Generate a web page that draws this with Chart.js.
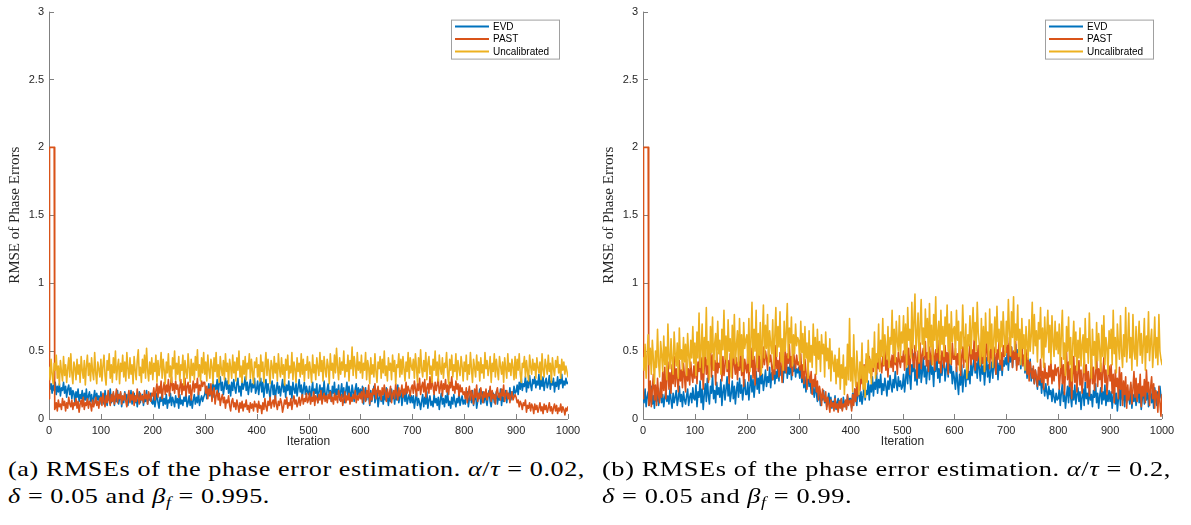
<!DOCTYPE html>
<html>
<head>
<meta charset="utf-8">
<script src="https://cdn.jsdelivr.net/npm/chart.js@4.4.0/dist/chart.umd.min.js"></script>
<style>
  html, body { margin: 0; padding: 0; background: #fff; }
  #wrap { position: relative; width: 1191px; height: 525px; overflow: hidden; }
  canvas { position: absolute; top: 0; }
  #ca { left: 0; }
  #cb { left: 594px; }
  .cap { position: absolute; top: 455px; font-family: "Liberation Serif", "Times New Roman", serif;
         font-size: 22px; line-height: 27px; color: #000; white-space: nowrap; letter-spacing: 0.5px;
         transform-origin: 0 0; }
  .cap i { font-style: italic; }
  .cap sub { font-size: 15px; vertical-align: -4px; line-height: 0; }
  #capa { left: 8px; }
  #capb { left: 602px; }
</style>
</head>
<body>
<div id="wrap">
  <canvas id="ca" width="595" height="455"></canvas>
  <canvas id="cb" width="595" height="455"></canvas>
  <div class="cap" id="capa" data-w="577"><span class="l1">(a) RMSEs of the phase error estimation. <i>α</i>/<i>τ</i> = 0.02,</span><br><span><i>δ</i> = 0.05 and <i>β<sub>f</sub></i> = 0.995.</span></div>
  <div class="cap" id="capb" data-w="569"><span class="l1">(b) RMSEs of the phase error estimation. <i>α</i>/<i>τ</i> = 0.2,</span><br><span><i>δ</i> = 0.05 and <i>β<sub>f</sub></i> = 0.99.</span></div>
</div>
<script>
// RMSE of the phase errors, sampled every 2 iterations (0 ... 1000)
// Panel (a): alpha/tau = 0.02, delta = 0.05, beta_f = 0.995
const evdA = [
  .28,.22,.26,.19,.25,.21,.27,.18,.24,.20, .26,.17,.23,.21,.27,.19,.24,.16,.22,.25,
  .18,.23,.15,.21,.19,.12,.20,.16,.22,.13, .18,.15,.21,.11,.19,.14,.22,.12,.17,.20,
  .13,.18,.10,.16,.21,.12,.19,.14,.17,.11,
  .20,.13,.17,.11,.21,.15,.10,.18,.14,.22, .12,.16,.19,.10,.17,.13,.21,.11,.15,.19,
  .09,.16,.12,.20,.14,.18,.10,.17,.13,.21, .11,.15,.19,.12,.17,.09,.14,.20,.12,.16,
  .18,.10,.15,.13,.21,.11,.17,.14,.19,.12,
  .11,.17,.09,.14,.19,.12,.08,.16,.13,.20, .10,.15,.11,.18,.08,.14,.12,.19,.10,.16,
  .13,.09,.17,.12,.15,.08,.18,.11,.14,.10, .16,.13,.19,.09,.12,.17,.10,.15,.08,.14,
  .18,.11,.16,.12,.20,.10,.14,.17,.13,.16,
  .18,.23,.15,.21,.26,.17,.24,.20,.28,.16, .25,.22,.29,.19,.26,.31,.21,.27,.18,.24,
  .30,.22,.28,.19,.25,.17,.27,.21,.29,.23, .19,.26,.30,.20,.24,.17,.28,.22,.25,.31,
  .21,.27,.18,.24,.29,.20,.26,.23,.30,.19,
  .22,.28,.18,.25,.30,.20,.27,.16,.23,.29, .19,.26,.21,.15,.24,.28,.18,.25,.14,.22,
  .27,.19,.24,.17,.23,.29,.20,.26,.16,.25, .21,.28,.18,.24,.15,.27,.22,.19,.26,.17,
  .23,.29,.20,.25,.16,.22,.27,.18,.24,.20,
  .18,.24,.13,.21,.27,.16,.22,.19,.26,.12, .20,.25,.17,.23,.15,.28,.19,.14,.22,.26,
  .17,.21,.13,.24,.19,.27,.15,.22,.18,.25, .14,.20,.26,.16,.23,.12,.21,.27,.17,.24,
  .19,.15,.25,.20,.13,.22,.26,.16,.23,.18,
  .22,.15,.24,.11,.19,.23,.14,.20,.17,.10, .21,.13,.18,.24,.12,.16,.21,.09,.15,.19,
  .13,.17,.11,.20,.14,.23,.16,.10,.19,.13, .22,.15,.18,.11,.20,.14,.25,.12,.17,.21,
  .10,.16,.19,.13,.22,.11,.15,.18,.12,.17,
  .12,.17,.08,.14,.19,.10,.15,.12,.07,.13, .18,.09,.16,.11,.20,.08,.14,.17,.10,.13,
  .09,.18,.12,.15,.10,.16,.07,.14,.19,.11, .15,.09,.17,.12,.20,.10,.13,.08,.16,.11,
  .18,.13,.09,.15,.12,.19,.10,.14,.17,.11,
  .14,.11,.17,.20,.09,.15,.18,.12,.21,.10, .15,.19,.08,.13,.17,.22,.11,.16,.20,.12,
  .18,.14,.10,.17,.21,.13,.09,.16,.19,.12, .15,.20,.11,.17,.14,.22,.10,.18,.13,.16,
  .21,.12,.19,.15,.23,.14,.20,.17,.24,.19,
  .20,.25,.18,.27,.22,.30,.21,.26,.24,.31, .20,.28,.23,.32,.25,.21,.29,.26,.31,.23,
  .28,.25,.33,.22,.29,.24,.31,.21,.27,.30, .23,.26,.32,.22,.28,.25,.30,.20,.27,.24,
  .31,.22,.29,.26,.33,.23,.28,.25,.30,.26,
  .27
];
const pastA = [
  .15,2.0,2.0,2.0,2.0,2.0,.08,.12,.06,.14, .09,.11,.07,.15,.10,.13,.06,.12,.08,.16,
  .11,.09,.14,.07,.12,.10,.15,.08,.13,.05, .11,.14,.09,.16,.07,.12,.10,.15,.08,.13,
  .11,.06,.14,.09,.12,.16,.10,.13,.08,.15,
  .16,.10,.19,.13,.09,.17,.12,.21,.14,.10, .18,.13,.20,.11,.16,.22,.12,.18,.15,.20,
  .11,.17,.14,.19,.13,.09,.16,.21,.12,.18, .14,.20,.10,.17,.13,.22,.15,.11,.19,.14,
  .17,.12,.21,.15,.18,.11,.20,.16,.13,.19,
  .17,.23,.14,.21,.26,.16,.24,.19,.28,.15, .22,.27,.18,.25,.20,.29,.17,.24,.31,.21,
  .26,.19,.28,.22,.25,.16,.23,.29,.18,.26, .21,.30,.17,.24,.27,.19,.25,.14,.22,.28,
  .20,.26,.23,.30,.18,.25,.21,.28,.24,.27,
  .27,.19,.24,.15,.22,.18,.26,.13,.20,.23, .11,.17,.21,.14,.19,.10,.15,.18,.12,.16,
  .08,.14,.12,.17,.10,.06,.13,.15,.09,.12, .07,.14,.10,.05,.12,.08,.13,.06,.11,.09,
  .14,.07,.10,.05,.12,.08,.11,.06,.13,.09,
  .11,.05,.13,.08,.10,.04,.12,.07,.15,.09, .06,.13,.10,.16,.08,.12,.14,.09,.17,.11,
  .07,.13,.10,.15,.12,.05,.09,.14,.11,.16, .08,.12,.10,.15,.07,.13,.17,.11,.14,.09,
  .12,.16,.10,.14,.18,.11,.15,.13,.19,.12,
  .14,.19,.11,.16,.13,.20,.10,.17,.15,.12, .18,.14,.21,.11,.16,.19,.13,.17,.12,.18,
  .15,.20,.13,.16,.11,.19,.14,.17,.12,.21, .16,.13,.18,.10,.15,.20,.12,.17,.14,.19,
  .11,.16,.13,.18,.15,.21,.12,.17,.14,.19,
  .15,.20,.12,.23,.17,.13,.21,.16,.25,.11, .19,.14,.22,.18,.26,.15,.20,.24,.17,.21,
  .14,.23,.18,.25,.20,.13,.22,.16,.19,.24, .12,.18,.21,.15,.26,.19,.14,.23,.17,.20,
  .25,.16,.22,.18,.27,.19,.24,.21,.17,.23,
  .25,.19,.28,.22,.17,.26,.21,.30,.18,.24, .27,.20,.29,.16,.23,.26,.19,.31,.22,.28,
  .24,.18,.27,.21,.25,.30,.19,.23,.28,.17, .26,.22,.29,.20,.25,.18,.27,.23,.31,.21,
  .24,.19,.28,.22,.26,.17,.25,.20,.23,.18,
  .20,.15,.23,.12,.19,.24,.14,.21,.17,.11, .22,.16,.25,.13,.19,.15,.23,.18,.12,.20,
  .16,.22,.14,.19,.17,.24,.13,.21,.15,.18, .11,.20,.23,.16,.19,.14,.22,.17,.25,.13,
  .18,.21,.15,.19,.12,.17,.20,.14,.16,.18,
  .16,.12,.14,.09,.13,.11,.07,.12,.10,.14, .05,.10,.08,.12,.06,.11,.09,.04,.11,.07,
  .10,.05,.08,.12,.06,.09,.04,.11,.07,.10, .05,.08,.12,.06,.09,.04,.08,.11,.06,.10,
  .04,.08,.06,.11,.05,.09,.07,.03,.08,.06,
  .09
];
const uncalA = [
  .38,.29,.44,.33,.26,.41,.36,.47,.30,.39, .25,.43,.35,.28,.46,.32,.40,.27,.37,.45,
  .31,.48,.34,.26,.42,.38,.29,.44,.33,.40, .27,.46,.36,.30,.43,.25,.39,.47,.32,.41,
  .28,.45,.35,.29,.49,.34,.26,.42,.37,.31,
  .44,.28,.39,.47,.32,.25,.43,.36,.48,.30, .40,.27,.45,.34,.50,.29,.38,.44,.26,.41,
  .35,.47,.31,.42,.28,.49,.37,.30,.45,.33, .40,.26,.46,.36,.29,.43,.51,.32,.38,.27,
  .44,.34,.47,.30,.52,.36,.28,.42,.33,.45,
  .29,.41,.35,.47,.27,.43,.32,.38,.49,.30, .44,.36,.26,.42,.34,.48,.31,.39,.27,.45,
  .37,.50,.29,.41,.33,.46,.28,.40,.36,.47, .25,.43,.35,.30,.48,.38,.27,.44,.32,.41,
  .29,.46,.36,.51,.31,.40,.28,.45,.34,.49,
  .33,.42,.28,.47,.36,.30,.44,.39,.26,.45, .35,.49,.31,.40,.27,.46,.37,.32,.43,.29,
  .48,.35,.41,.26,.44,.38,.30,.47,.34,.42, .28,.45,.36,.50,.31,.39,.27,.43,.33,.46,
  .29,.41,.37,.48,.30,.44,.35,.26,.42,.38,
  .45,.31,.40,.28,.47,.35,.42,.27,.38,.49, .32,.44,.36,.26,.43,.39,.30,.46,.34,.41,
  .28,.48,.37,.31,.45,.33,.40,.25,.44,.36, .47,.30,.39,.34,.49,.29,.42,.37,.27,.45,
  .35,.41,.31,.48,.33,.44,.28,.40,.36,.46,
  .30,.42,.36,.27,.47,.34,.40,.29,.45,.38, .32,.49,.35,.43,.28,.46,.37,.31,.44,.39,
  .26,.48,.36,.41,.30,.47,.34,.52,.38,.29, .45,.33,.42,.36,.50,.31,.40,.35,.47,.28,
  .43,.37,.53,.32,.46,.39,.30,.49,.36,.42,
  .34,.47,.30,.41,.36,.49,.29,.43,.38,.26, .45,.33,.40,.31,.48,.35,.27,.42,.37,.46,
  .30,.44,.34,.50,.32,.39,.28,.45,.36,.41, .29,.47,.35,.43,.26,.40,.38,.48,.31,.44,
  .33,.46,.37,.28,.42,.35,.49,.30,.45,.39,
  .36,.44,.30,.48,.38,.27,.45,.34,.51,.37, .31,.43,.35,.49,.29,.41,.46,.33,.39,.27,
  .44,.36,.50,.32,.42,.28,.47,.37,.33,.45, .30,.41,.38,.49,.34,.26,.44,.36,.47,.31,
  .40,.35,.48,.29,.43,.37,.32,.46,.39,.28,
  .42,.35,.47,.29,.40,.33,.49,.37,.27,.44, .38,.31,.47,.36,.42,.28,.45,.34,.40,.30,
  .49,.37,.43,.32,.38,.46,.27,.41,.35,.48, .31,.44,.36,.29,.46,.39,.33,.42,.27,.45,
  .37,.30,.48,.35,.41,.32,.44,.38,.29,.46,
  .30,.44,.36,.48,.33,.27,.41,.38,.46,.31, .43,.35,.28,.47,.39,.33,.44,.36,.41,.30,
  .45,.38,.34,.42,.29,.48,.36,.31,.44,.39, .33,.47,.35,.41,.27,.45,.37,.32,.43,.38,
  .46,.34,.40,.30,.44,.36,.42,.33,.39,.35,
  .31
];

// Panel (b): alpha/tau = 0.2, delta = 0.05, beta_f = 0.99
const evdB = [
  .18,.12,.22,.09,.16,.20,.10,.14,.24,.11, .17,.08,.21,.13,.19,.10,.15,.23,.12,.18,
  .09,.16,.20,.13,.17,.11,.22,.14,.08,.19, .12,.16,.21,.10,.15,.24,.13,.18,.09,.20,
  .14,.11,.17,.22,.10,.16,.19,.12,.23,.15,
  .14,.25,.09,.20,.16,.28,.12,.22,.07,.18, .26,.13,.30,.17,.11,.24,.19,.32,.15,.21,
  .12,.27,.18,.23,.16,.29,.10,.20,.25,.14, .22,.31,.17,.26,.13,.19,.28,.15,.24,.11,
  .21,.27,.16,.30,.19,.25,.14,.22,.29,.18,
  .18,.27,.14,.24,.32,.20,.29,.16,.25,.35, .22,.30,.19,.37,.26,.33,.21,.28,.36,.24,
  .31,.27,.38,.23,.34,.29,.41,.26,.35,.30, .39,.28,.43,.32,.36,.27,.41,.34,.45,.30,
  .38,.33,.44,.29,.40,.35,.42,.31,.37,.34,
  .38,.30,.42,.27,.35,.23,.31,.20,.28,.33, .24,.30,.19,.27,.22,.16,.25,.19,.13,.22,
  .17,.10,.18,.14,.21,.12,.16,.09,.14,.19, .11,.16,.08,.13,.10,.17,.07,.12,.15,.09,
  .14,.11,.07,.16,.10,.13,.08,.17,.12,.15,
  .15,.08,.19,.12,.22,.16,.10,.24,.18,.13, .20,.11,.17,.25,.14,.21,.18,.28,.14,.25,
  .20,.31,.17,.27,.22,.34,.19,.29,.23,.33, .18,.26,.21,.30,.24,.17,.28,.22,.32,.25,
  .20,.29,.23,.35,.26,.21,.31,.24,.28,.22,
  .24,.33,.20,.29,.38,.26,.44,.31,.22,.40, .35,.48,.28,.36,.25,.42,.30,.50,.27,.34,
  .45,.31,.39,.26,.36,.43,.29,.47,.33,.38, .24,.41,.35,.49,.30,.37,.27,.44,.32,.40,
  .46,.28,.36,.42,.31,.48,.34,.39,.26,.35,
  .30,.22,.38,.27,.18,.33,.25,.40,.20,.31, .36,.24,.42,.29,.35,.26,.44,.32,.38,.46,
  .34,.41,.30,.48,.37,.28,.43,.33,.39,.25, .36,.45,.31,.40,.27,.35,.42,.30,.47,.38,
  .33,.44,.29,.41,.36,.46,.32,.43,.39,.45,
  .40,.50,.36,.47,.42,.53,.38,.49,.44,.55, .39,.51,.43,.48,.37,.52,.41,.46,.34,.45,
  .30,.39,.35,.44,.28,.37,.32,.26,.36,.29, .22,.33,.25,.30,.19,.28,.23,.17,.26,.20,
  .15,.24,.18,.21,.13,.22,.16,.12,.19,.14,
  .15,.22,.10,.19,.26,.13,.20,.08,.17,.24, .12,.28,.16,.09,.21,.14,.25,.11,.18,.23,
  .13,.20,.07,.16,.22,.10,.27,.15,.19,.11, .24,.14,.18,.09,.21,.16,.26,.12,.19,.08,
  .17,.23,.11,.20,.14,.25,.10,.18,.13,.21,
  .13,.20,.08,.17,.24,.11,.19,.06,.15,.22, .10,.27,.14,.18,.09,.23,.12,.20,.16,.11,
  .25,.08,.18,.13,.21,.10,.16,.24,.12,.19, .07,.15,.22,.11,.18,.14,.26,.09,.17,.21,
  .12,.19,.08,.23,.15,.10,.20,.13,.24,.16,
  .14
];
const pastB = [
  .15,2.0,2.0,2.0,2.0,2.0,.12,.28,.09,.22, .33,.14,.25,.10,.30,.18,.12,.27,.16,.35,
  .21,.38,.15,.29,.42,.22,.34,.19,.40,.26, .46,.24,.37,.30,.20,.43,.28,.36,.23,.41,
  .31,.20,.44,.28,.37,.25,.42,.32,.27,.39,
  .30,.48,.26,.42,.35,.53,.29,.45,.22,.38, .50,.33,.44,.27,.40,.55,.31,.47,.36,.43,
  .25,.49,.34,.41,.38,.52,.28,.46,.32,.39, .54,.35,.43,.26,.48,.37,.30,.51,.40,.33,
  .45,.29,.42,.36,.50,.32,.47,.24,.44,.38,
  .34,.49,.28,.44,.38,.52,.30,.46,.25,.41, .55,.35,.48,.32,.44,.38,.53,.40,.50,.45,
  .36,.51,.42,.47,.39,.29,.46,.33,.54,.37, .43,.31,.49,.40,.27,.45,.36,.52,.34,.48,
  .41,.55,.38,.46,.32,.50,.43,.37,.47,.40,
  .42,.36,.48,.30,.40,.26,.44,.35,.22,.38, .31,.27,.35,.18,.29,.24,.33,.20,.28,.14,
  .24,.19,.10,.22,.16,.13,.20,.07,.16,.11, .05,.14,.09,.12,.06,.15,.08,.11,.05,.13,
  .08,.15,.06,.11,.09,.14,.07,.18,.10,.13,
  .14,.06,.18,.10,.22,.13,.27,.17,.30,.21, .35,.26,.32,.40,.28,.44,.34,.38,.46,.36,
  .30,.42,.35,.48,.39,.33,.45,.37,.50,.41, .34,.46,.39,.52,.36,.44,.31,.48,.42,.38,
  .47,.35,.51,.40,.45,.33,.49,.43,.38,.46,
  .42,.50,.36,.47,.55,.40,.52,.33,.48,.58, .43,.38,.54,.45,.30,.50,.41,.56,.37,.47,
  .52,.44,.57,.39,.49,.35,.53,.46,.40,.55, .48,.36,.51,.43,.58,.41,.47,.34,.50,.45,
  .38,.54,.42,.49,.33,.52,.46,.40,.56,.44,
  .44,.52,.35,.48,.40,.57,.32,.46,.53,.38, .60,.42,.50,.34,.47,.55,.40,.51,.44,.58,
  .36,.49,.43,.54,.46,.39,.56,.41,.52,.35, .48,.59,.43,.50,.37,.55,.45,.41,.53,.47,
  .33,.51,.44,.57,.40,.49,.36,.54,.46,.50,
  .49,.56,.42,.60,.46,.53,.38,.50,.44,.57, .36,.48,.40,.52,.45,.55,.39,.47,.42,.51,
  .33,.45,.28,.42,.35,.30,.39,.26,.36,.31, .24,.38,.29,.44,.27,.35,.22,.41,.30,.34,
  .25,.39,.31,.43,.26,.36,.28,.40,.32,.37,
  .38,.22,.33,.45,.26,.40,.18,.35,.50,.29, .42,.24,.37,.15,.32,.46,.27,.39,.20,.34,
  .43,.25,.36,.19,.31,.47,.28,.40,.23,.35, .17,.30,.44,.26,.38,.21,.33,.48,.24,.37,
  .29,.41,.20,.34,.45,.27,.36,.18,.31,.39,
  .28,.40,.19,.33,.12,.36,.24,.30,.15,.38, .22,.34,.10,.28,.18,.31,.08,.25,.14,.20,
  .27,.11,.22,.35,.16,.30,.13,.26,.19,.33, .09,.24,.17,.29,.12,.36,.20,.27,.10,.23,
  .31,.15,.26,.08,.21,.18,.05,.24,.12,.02,
  .18
];
const uncalB = [
  .45,.36,.55,.30,.48,.62,.40,.52,.33,.58, .44,.26,.50,.38,.66,.42,.31,.57,.47,.35,
  .61,.40,.53,.29,.70,.46,.37,.59,.43,.33, .64,.48,.39,.56,.30,.67,.44,.51,.36,.60,
  .42,.55,.32,.63,.47,.38,.58,.45,.68,.41,
  .56,.32,.64,.45,.78,.38,.52,.70,.34,.60, .46,.82,.40,.57,.29,.68,.49,.75,.36,.55,
  .63,.42,.72,.48,.58,.33,.66,.51,.80,.44, .61,.37,.73,.50,.59,.31,.69,.45,.77,.41,
  .54,.65,.39,.74,.47,.62,.35,.71,.52,.58,
  .62,.41,.74,.35,.58,.86,.44,.66,.50,.80, .38,.63,.47,.71,.33,.60,.84,.45,.69,.52,
  .77,.40,.65,.55,.48,.73,.37,.61,.82,.46, .68,.53,.79,.42,.59,.36,.72,.50,.64,.85,
  .45,.67,.56,.75,.39,.62,.48,.70,.54,.60,
  .58,.40,.72,.49,.63,.36,.68,.45,.56,.30, .65,.42,.54,.38,.70,.47,.60,.33,.66,.44,
  .57,.35,.62,.48,.55,.31,.64,.43,.52,.37, .59,.28,.50,.42,.35,.47,.26,.44,.31,.52,
  .22,.40,.30,.47,.18,.38,.25,.55,.29,.74,
  .28,.45,.20,.62,.33,.24,.50,.36,.18,.42, .30,.56,.22,.39,.16,.48,.27,.58,.34,.44,
  .26,.52,.38,.64,.30,.48,.42,.70,.35,.58, .46,.74,.40,.62,.52,.44,.68,.38,.60,.55,
  .80,.48,.66,.42,.72,.57,.50,.76,.45,.64,
  .56,.76,.48,.70,.38,.82,.58,.66,.45,.86, .52,.72,.92,.50,.63,.78,.42,.70,.88,.55,
  .67,.47,.81,.60,.74,.44,.85,.53,.69,.40, .77,.58,.90,.49,.64,.72,.43,.80,.55,.68,
  .46,.75,.61,.84,.50,.70,.41,.79,.57,.66,
  .68,.47,.80,.58,.72,.36,.64,.52,.84,.60, .44,.70,.30,.62,.54,.76,.48,.66,.82,.58,
  .71,.50,.86,.63,.55,.40,.74,.46,.68,.35, .78,.56,.64,.42,.81,.52,.70,.38,.60,.75,
  .49,.83,.57,.66,.44,.72,.53,.79,.61,.47,
  .72,.55,.88,.64,.47,.79,.60,.90,.50,.70, .58,.84,.46,.66,.40,.74,.52,.62,.36,.68,
  .56,.44,.73,.50,.61,.86,.48,.77,.54,.65, .42,.71,.59,.82,.45,.67,.38,.75,.53,.63,
  .80,.49,.69,.41,.76,.57,.46,.72,.51,.64,
  .48,.70,.38,.62,.80,.44,.56,.32,.68,.50, .75,.40,.60,.28,.54,.72,.46,.64,.36,.58,
  .45,.67,.39,.55,.62,.34,.74,.49,.59,.41, .78,.52,.30,.66,.47,.57,.37,.71,.43,.63,
  .51,.35,.69,.46,.76,.40,.60,.53,.33,.65,
  .52,.66,.40,.80,.48,.60,.34,.70,.55,.44, .76,.50,.38,.62,.46,.82,.42,.56,.78,.45,
  .60,.36,.77,.50,.44,.68,.39,.58,.72,.47, .63,.41,.55,.74,.36,.61,.49,.79,.43,.57,
  .66,.38,.52,.75,.45,.60,.40,.77,.50,.44,
  .40
];

// PAST start-up transient: extra samples at iterations 1 and 11
const spikeIter = [1, 11];
const pastSpikeA = [2.0, .07];
const pastSpikeB = [2.0, .10];

const seriesNames = ['EVD', 'PAST', 'Uncalibrated'];
const seriesColors = ['#0072BD', '#D95319', '#EDB120'];
const xTickStep = 100;
const yTickStep = 0.5;

function toPoints(values, extraIter, extraVals) {
  const step = 1000 / (values.length - 1);
  const pts = values.map((v, i) => ({ x: Math.round(i * step), y: v }));
  if (extraIter) extraIter.forEach((it, k) => pts.push({ x: it, y: extraVals[k] }));
  return pts.sort((a, b) => a.x - b.x);
}

const axesDeco = {
  id: 'axesDeco',
  beforeDatasetsDraw(chart) {
    const { ctx, chartArea: a, scales: { x, y } } = chart;
    ctx.save();
    ctx.strokeStyle = '#808080';
    ctx.lineWidth = 1;
    ctx.beginPath();
    ctx.moveTo(a.left + 0.5, a.top);
    ctx.lineTo(a.left + 0.5, a.bottom + 0.5);
    ctx.lineTo(a.right, a.bottom + 0.5);
    y.ticks.forEach(t => {
      const py = Math.round(y.getPixelForValue(t.value)) + 0.5;
      ctx.moveTo(a.left, py); ctx.lineTo(a.left + 5, py);
    });
    x.ticks.forEach(t => {
      const px = Math.round(x.getPixelForValue(t.value)) + 0.5;
      ctx.moveTo(px, a.bottom); ctx.lineTo(px, a.bottom - 5);
    });
    ctx.stroke();

    ctx.fillStyle = '#262626';
    ctx.font = '12px "Liberation Sans", Arial, sans-serif';
    ctx.textAlign = 'center';
    ctx.textBaseline = 'middle';
    ctx.fillText('Iteration', (a.left + a.right) / 2, a.bottom + 23);

    ctx.translate(15, (a.top + a.bottom) / 2);
    ctx.rotate(-Math.PI / 2);
    ctx.font = '15px "Liberation Serif", "Times New Roman", serif';
    ctx.fillText('RMSE of Phase Errors', 0, 0);
    ctx.restore();
  },
  afterDatasetsDraw(chart) {
    const { ctx, chartArea: a } = chart;
    const w = 108, h = 39;
    const bx = a.right - 9 - w, by = a.top + 8;
    ctx.save();
    ctx.fillStyle = '#fff';
    ctx.fillRect(bx, by, w, h);
    ctx.strokeStyle = '#a0a0a0';
    ctx.lineWidth = 1;
    ctx.strokeRect(bx + 0.5, by + 0.5, w, h);
    ctx.font = '10px "Liberation Sans", Arial, sans-serif';
    ctx.textBaseline = 'middle';
    ctx.textAlign = 'left';
    chart.data.datasets.forEach((ds, i) => {
      const ly = by + 7 + i * 12.5;
      ctx.strokeStyle = ds.borderColor;
      ctx.lineWidth = 2;
      ctx.beginPath();
      ctx.moveTo(bx + 4, ly); ctx.lineTo(bx + 38, ly);
      ctx.stroke();
      ctx.fillStyle = '#000';
      ctx.fillText(ds.label, bx + 42, ly + 0.5);
    });
    ctx.restore();
  }
};

function makeChart(id, evd, past, uncal, pastSpike) {
  const data = [toPoints(evd), toPoints(past, spikeIter, pastSpike), toPoints(uncal)];
  return new Chart(document.getElementById(id), {
    type: 'line',
    data: {
      datasets: data.map((pts, i) => ({
        label: seriesNames[i],
        data: pts,
        borderColor: seriesColors[i],
        backgroundColor: seriesColors[i],
        borderWidth: 1.6,
        borderJoinStyle: 'round',
        borderCapStyle: 'round',
        pointRadius: 0,
        tension: 0,
        fill: false,
        order: 3 - i
      }))
    },
    options: {
      responsive: false,
      animation: false,
      devicePixelRatio: 1,
      layout: { padding: { left: 0, right: 27, top: 8, bottom: 0 } },
      plugins: { legend: { display: false }, tooltip: { enabled: false } },
      scales: {
        x: {
          type: 'linear', min: 0, max: 1000,
          grid: { display: false, drawTicks: false },
          border: { display: false },
          ticks: { stepSize: xTickStep, autoSkip: false, maxRotation: 0, padding: 5,
                   callback: v => String(v),
                   color: '#262626', font: { family: '"Liberation Sans", Arial', size: 11 } },
          afterFit(s) { s.height = 36; }
        },
        y: {
          type: 'linear', min: 0, max: 3,
          grid: { display: false, drawTicks: false },
          border: { display: false },
          ticks: { stepSize: yTickStep, padding: 5,
                   callback: v => String(v),
                   color: '#262626', font: { family: '"Liberation Sans", Arial', size: 11 } },
          afterFit(s) { s.width = 49; }
        }
      }
    },
    plugins: [axesDeco]
  });
}

makeChart('ca', evdA, pastA, uncalA, pastSpikeA);
makeChart('cb', evdB, pastB, uncalB, pastSpikeB);

// stretch each caption so its first line spans the column width
document.querySelectorAll('.cap').forEach(el => {
  const w = el.querySelector('.l1').getBoundingClientRect().width;
  el.style.transform = 'scaleX(' + (Number(el.dataset.w) / w) + ')';
});
</script>
</body>
</html>
